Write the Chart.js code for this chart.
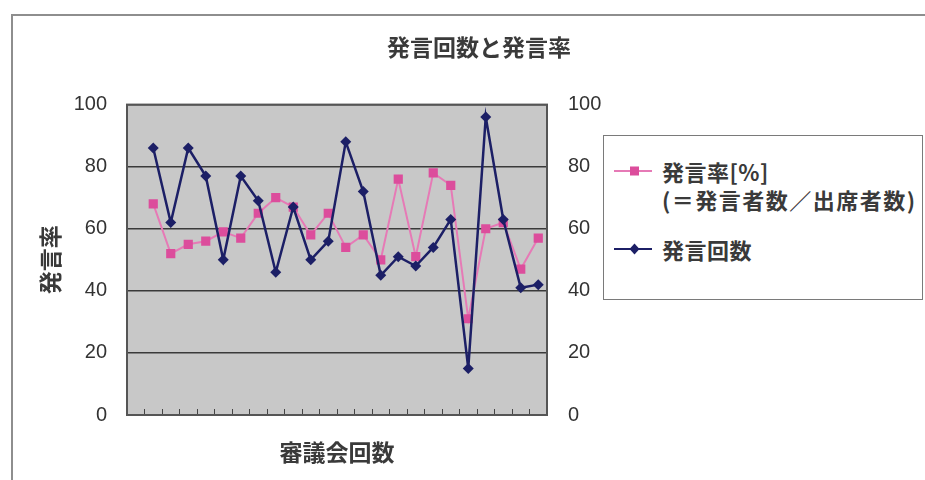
<!DOCTYPE html>
<html lang="ja">
<head>
<meta charset="utf-8">
<title>発言回数と発言率</title>
<script src="https://cdn.jsdelivr.net/npm/chart.js@4/dist/chart.umd.min.js"></script>
<style>
  html, body { margin: 0; padding: 0; background: #ffffff; }
  #wrap { position: relative; width: 925px; height: 480px; overflow: hidden; }
  #frame {
    position: absolute; left: 11px; top: 14px; width: 1000px; height: 1000px;
    border-left: 2px solid #8e8e8e; border-top: 2px solid #8e8e8e;
  }
  #chart { position: absolute; left: 0; top: 0; }
  #legend {
    position: absolute; left: 603px; top: 135px; width: 318px; height: 163px;
    border: 1.5px solid #7a7a7a; background: #ffffff;
    font-family: "Noto Sans CJK JP", sans-serif; font-weight: bold; font-size: 22px;
    color: #3a3a3a;
  }
  .item { position: absolute; left: 10px; display: flex; align-items: flex-start; }
  .item svg { margin-top: 7px; }
  .item .txt { margin-left: 10px; line-height: 28px; white-space: nowrap; letter-spacing: 0.5px; }
  .item .wide { letter-spacing: 1.5px; }
</style>
</head>
<body>
<div id="wrap">
  <div id="frame"></div>
  <canvas id="chart" width="925" height="480"></canvas>
  <div id="legend"></div>
</div>
<script>
// 審議会ごとの集計（先頭の区分は空欄）
const sessions = ['1', '2', '3', '4', '5', '6', '7', '8', '9', '10', '11', '12',
                  '13', '14', '15', '16', '17', '18', '19', '20', '21', '22', '23', '24'];
// 発言率[%]（＝発言者数／出席者数）
const speakRate = [null, 68, 52, 55, 56, 59, 57, 65, 70, 67, 58, 65,
                   54, 58, 50, 76, 51, 78, 74, 31, 60, 62, 47, 57];
// 発言回数
const speakCount = [null, 86, 62, 86, 77, 50, 77, 69, 46, 67, 50, 56,
                    88, 72, 45, 51, 48, 54, 63, 15, 96, 63, 41, 42];
const axisTicks = [0, 20, 40, 60, 80, 100];

const rateName = ['発言率[%]', '(＝発言者数／出席者数)'];
const countName = '発言回数';

const PINK_LINE = '#e67ab6';
const PINK_MARK = '#dc4d9c';
const NAVY = '#1c1f66';
const TEXT = '#3a3a3a';
const JP = '"Noto Sans CJK JP", sans-serif';
const NUM = '"Liberation Sans", Arial, sans-serif';

// プロット領域の背景と枠
const plotFrame = {
  id: 'plotFrame',
  beforeDraw(chart) {
    const { ctx, chartArea: a } = chart;
    ctx.save();
    ctx.fillStyle = '#c8c8c8';
    ctx.fillRect(a.left, a.top, a.right - a.left, a.bottom - a.top);
    ctx.restore();
  },
  beforeDatasetsDraw(chart) {
    const { ctx, chartArea: a } = chart;
    ctx.save();
    ctx.strokeStyle = '#555555';
    ctx.lineWidth = 2;
    ctx.strokeRect(a.left, a.top, a.right - a.left, a.bottom - a.top);
    ctx.restore();
  }
};

new Chart(document.getElementById('chart'), {
  type: 'line',
  data: {
    labels: sessions,
    datasets: [
      {
        label: countName,
        data: speakCount,
        yAxisID: 'y2',
        borderColor: NAVY,
        backgroundColor: NAVY,
        borderWidth: 2.5,
        pointStyle: 'rectRot',
        pointRadius: 5.5,
        pointBorderWidth: 0,
        pointBackgroundColor: NAVY,
        tension: 0,
        spanGaps: false
      },
      {
        label: rateName.join(''),
        data: speakRate,
        yAxisID: 'y',
        borderColor: PINK_LINE,
        backgroundColor: PINK_MARK,
        borderWidth: 2,
        pointStyle: 'rect',
        pointRadius: 6.5,
        pointBorderWidth: 0,
        pointBackgroundColor: PINK_MARK,
        tension: 0,
        spanGaps: false
      }
    ]
  },
  options: {
    responsive: false,
    animation: false,
    layout: { padding: { left: 33, right: 0, top: 0, bottom: 0 } },
    plugins: {
      legend: { display: false },
      tooltip: { enabled: false },
      title: {
        display: true,
        text: '発言回数と発言率',
        color: TEXT,
        font: { family: JP, size: 23, weight: 'bold' },
        padding: { top: 33, bottom: 44 }
      }
    },
    scales: {
      x: {
        type: 'category',
        offset: true,
        afterFit(scale) { scale.height = 65; },
        grid: {
          display: true,
          offset: true,
          drawOnChartArea: false,
          drawTicks: true,
          tickLength: -6,
          color: '#444444',
          lineWidth: 1
        },
        border: { display: false },
        ticks: { display: false },
        title: {
          display: true,
          text: '審議会回数',
          color: TEXT,
          font: { family: JP, size: 23, weight: 'bold' },
          padding: { top: 0, bottom: 14 }
        }
      },
      y: {
        position: 'left',
        min: 0,
        max: 100,
        afterFit(scale) { scale.width = 94; },
        afterBuildTicks(scale) { scale.ticks = axisTicks.map(v => ({ value: v })); },
        grid: { color: '#3a3a3a', lineWidth: 1.5, drawTicks: false },
        border: { display: false },
        ticks: { color: '#333333', font: { family: NUM, size: 20 }, padding: 20 },
        title: {
          display: true,
          text: '発言率',
          color: TEXT,
          font: { family: JP, size: 23, weight: 'bold' },
          padding: { top: 3, bottom: 0 }
        }
      },
      y2: {
        position: 'right',
        min: 0,
        max: 100,
        afterFit(scale) { scale.width = 378; },
        afterBuildTicks(scale) { scale.ticks = axisTicks.map(v => ({ value: v })); },
        grid: { display: false, drawOnChartArea: false, drawTicks: false },
        border: { display: false },
        ticks: { color: '#333333', font: { family: NUM, size: 20 }, padding: 21 }
      }
    }
  },
  plugins: [plotFrame]
});

// 凡例
function legendIcon(color, lineColor, shape) {
  const mark = shape === 'rect'
    ? `<rect x="16" y="2.5" width="9" height="9" fill="${color}"/>`
    : `<polygon points="20.5,1.5 25.5,7 20.5,12.5 15.5,7" fill="${color}"/>`;
  return `<svg width="38" height="14" viewBox="0 0 38 14">
    <line x1="0" y1="7" x2="38" y2="7" stroke="${lineColor}" stroke-width="2"/>${mark}</svg>`;
}
document.getElementById('legend').innerHTML =
  `<div class="item" style="top:21px">${legendIcon(PINK_MARK, PINK_LINE, 'rect')}
     <div class="txt">${rateName[0]}<br><span class="wide">${rateName[1]}</span></div></div>
   <div class="item" style="top:99px">${legendIcon(NAVY, NAVY, 'diamond')}
     <div class="txt">${countName}</div></div>`;
</script>
</body>
</html>
